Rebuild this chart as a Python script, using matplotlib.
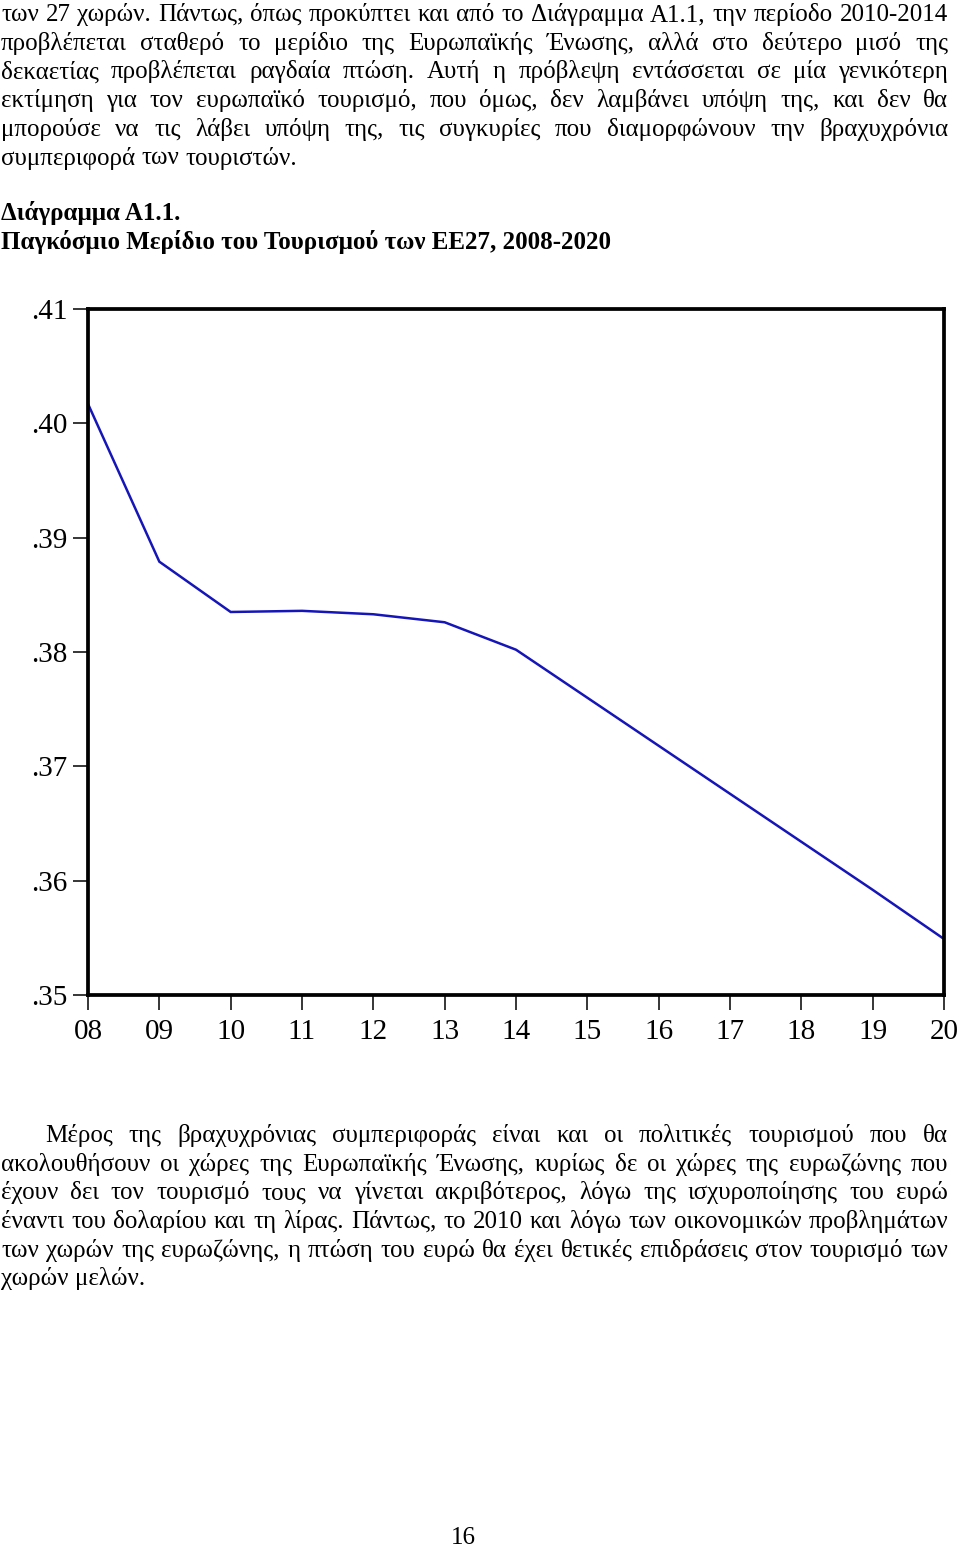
import matplotlib
matplotlib.use("Agg")
import matplotlib.pyplot as plt
from matplotlib.transforms import IdentityTransform

plt.rcParams['font.family'] = ['Liberation Serif', 'DejaVu Serif']

years = [2008, 2009, 2010, 2011, 2012, 2013, 2014, 2015, 2016, 2017, 2018, 2019, 2020]
year_labels = ["08", "09", "10", "11", "12", "13", "14", "15", "16", "17", "18", "19", "20"]
share = [0.4017, 0.3879, 0.3835, 0.3836, 0.3833, 0.3826, 0.3802,
         0.3760, 0.3718, 0.3676, 0.3634, 0.3592, 0.3549]
y_ticks = [0.35, 0.36, 0.37, 0.38, 0.39, 0.40, 0.41]
y_tick_labels = [".35", ".36", ".37", ".38", ".39", ".40", ".41"]

para1 = [
    "των 27 χωρών. Πάντως, όπως προκύπτει και από το Διάγραμμα Α1.1, την περίοδο 2010-2014",
    "προβλέπεται σταθερό το μερίδιο της Ευρωπαϊκής Ένωσης, αλλά στο δεύτερο μισό της",
    "δεκαετίας προβλέπεται ραγδαία πτώση. Αυτή η πρόβλεψη εντάσσεται σε μία γενικότερη",
    "εκτίμηση για τον ευρωπαϊκό τουρισμό, που όμως, δεν λαμβάνει υπόψη της, και δεν θα",
    "μπορούσε να τις λάβει υπόψη της, τις συγκυρίες που διαμορφώνουν την βραχυχρόνια",
    "συμπεριφορά των τουριστών.",
]
para2 = [
    "Μέρος της βραχυχρόνιας συμπεριφοράς είναι και οι πολιτικές τουρισμού που θα",
    "ακολουθήσουν οι χώρες της Ευρωπαϊκής Ένωσης, κυρίως δε οι χώρες της ευρωζώνης που",
    "έχουν δει τον τουρισμό τους να γίνεται ακριβότερος, λόγω της ισχυροποίησης του ευρώ",
    "έναντι του δολαρίου και τη λίρας. Πάντως, το 2010 και λόγω των οικονομικών προβλημάτων",
    "των χωρών της ευρωζώνης, η πτώση του ευρώ θα έχει θετικές επιδράσεις στον τουρισμό των",
    "χωρών μελών.",
]
heading1 = "Διάγραμμα Α1.1."
heading2 = "Παγκόσμιο Μερίδιο του Τουρισμού των ΕΕ27, 2008-2020"
page_no = "16"

W, H = 960, 1546
fig = plt.figure(figsize=(W / 100, H / 100), dpi=100)
renderer = fig.canvas.get_renderer()
FS = 18


def put(s, x, y, **kw):
    # x, y in pixels from the top-left corner of the page
    return fig.text(x, H - y, s, transform=IdentityTransform(), va="baseline",
                    fontsize=kw.pop("fontsize", FS), **kw)


def width(t):
    return t.get_window_extent(renderer=renderer).width


def text_line(s, x0, x1, y, justify=True):
    words = s.split(" ")
    objs = [put(w, 0, y) for w in words]
    ws = [width(t) for t in objs]
    probe_a = put("x x", 0, y)
    probe_b = put("xx", 0, y)
    space = width(probe_a) - width(probe_b)
    probe_a.remove()
    probe_b.remove()
    gap = space
    if justify and len(words) > 1:
        gap = max((x1 - x0 - sum(ws)) / (len(words) - 1), space * 0.6)
    x = x0
    for t, w in zip(objs, ws):
        t.set_x(x)
        x += w + gap


for i, line in enumerate(para1):
    text_line(line, 1, 948, 21 + i * 28.7, justify=(i < len(para1) - 1))

put(heading1, 1, 220, fontweight="bold")
put(heading2, 1, 249, fontweight="bold")

for i, line in enumerate(para2):
    x0 = 45 if i == 0 else 1
    text_line(line, x0, 948, 1142 + i * 28.7, justify=(i < len(para2) - 1))

put(page_no, 463, 1544, ha="center")

# chart
ax = fig.add_axes([88 / W, 1 - 995 / H, (944 - 88) / W, (995 - 309) / H])
ax.plot(years, share, color="#1616b8", linewidth=1.8, solid_joinstyle="miter")
ax.set_xlim(2008, 2020)
ax.set_ylim(0.35, 0.41)
ax.set_xticks(years)
ax.set_xticklabels(year_labels)
ax.set_yticks(y_ticks)
ax.set_yticklabels(y_tick_labels)
for sp in ax.spines.values():
    sp.set_linewidth(2.7)
    sp.set_color("black")
ax.tick_params(axis="both", direction="out", length=11, width=1.1,
               labelsize=21, pad=4, colors="black")
ax.tick_params(axis="x", pad=6)

fig.savefig("out.png", dpi=100)
